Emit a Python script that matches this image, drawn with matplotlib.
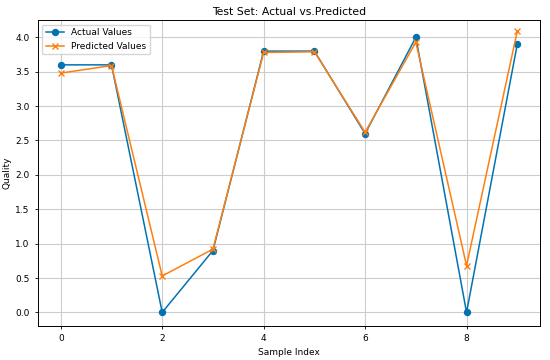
import matplotlib
matplotlib.use("Agg")
from matplotlib import pyplot as plt

sample_index = [0, 1, 2, 3, 4, 5, 6, 7, 8, 9]
actual_values = [3.6, 3.6, 0.0, 0.9, 3.8, 3.8, 2.6, 4.0, 0.0, 3.9]
predicted_values = [3.48, 3.59, 0.53, 0.92, 3.78, 3.79, 2.62, 3.93, 0.68, 4.09]

plt.rcParams['font.size'] = 6.5

fig = plt.figure(figsize=(5.5, 3.6), dpi=100)
ax = fig.add_axes([0.069, 0.094, 0.913, 0.85])

ax.plot(sample_index, actual_values, marker='o', markersize=4.3, linewidth=1.1,
        color='#0173B2', label='Actual Values')
ax.plot(sample_index, predicted_values, marker='x', markersize=4.3, linewidth=1.1,
        color='#ff7f0e', label='Predicted Values')

ax.set_title("Test Set: Actual vs.Predicted", fontsize=7.8, pad=4)
ax.set_xlabel("Sample Index", labelpad=3)
ax.set_ylabel("Quality", labelpad=3)
ax.set_ylim(-0.2, 4.25)
ax.set_yticks([0.0, 0.5, 1.0, 1.5, 2.0, 2.5, 3.0, 3.5, 4.0])
ax.set_xticks([0, 2, 4, 6, 8])
ax.grid(True, color='#cccccc', linewidth=0.8)
ax.tick_params(length=2.5, width=0.6)
for s in ax.spines.values():
    s.set_linewidth(0.7)
ax.legend(loc='upper left')

plt.savefig("out.png")
